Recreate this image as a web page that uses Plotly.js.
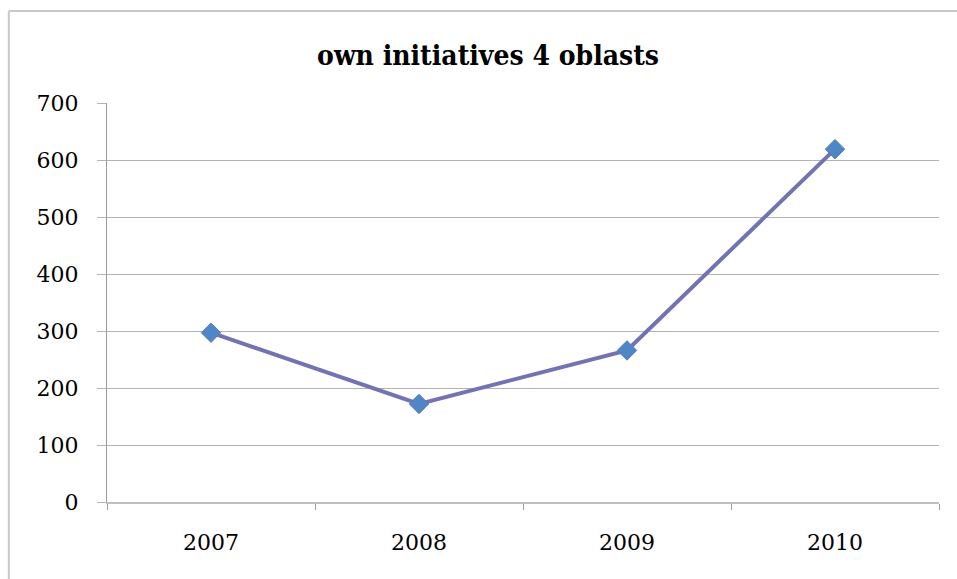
<!DOCTYPE html>
<html>
<head>
<meta charset="utf-8">
<script src="https://cdn.plot.ly/plotly-3.0.1.min.js"></script>
<style>html,body{margin:0;padding:0;background:#fff;}#chart{width:957px;height:579px;}</style>
</head>
<body>
<div id="chart"></div>
<script>
const years = ['2007', '2008', '2009', '2010'];
const initiatives = [297, 172, 266, 619];
const yTicks = [0, 100, 200, 300, 400, 500, 600, 700];

const trace = {
  x: years,
  y: initiatives,
  type: 'scatter',
  mode: 'lines+markers',
  line: {color: '#7373B3', width: 4},
  marker: {symbol: 'diamond', size: 15, color: '#4F86C6', line: {color: '#5A7FC0', width: 1}},
  hoverinfo: 'x+y'
};

const layout = {
  width: 957, height: 579,
  margin: {l: 107, r: 18, t: 103, b: 77},
  paper_bgcolor: '#ffffff', plot_bgcolor: '#ffffff',
  showlegend: false,
  title: {
    text: 'own initiatives 4 oblasts',
    font: {family: 'DejaVu Serif Condensed, DejaVu Serif', size: 28, color: '#000', weight: 'bold'},
    x: 0.51, xref: 'container', xanchor: 'center',
    y: 0.905, yref: 'container', yanchor: 'middle'
  },
  xaxis: {
    type: 'category',
    range: [-0.5, 3.5],
    showgrid: false,
    showline: true, linecolor: '#BFBFBF', linewidth: 2,
    ticks: 'outside', tickson: 'boundaries', ticklen: 6, tickcolor: '#A0A0A0', tickwidth: 1,
    ticklabelstandoff: 20,
    tickfont: {family: 'DejaVu Serif', size: 22, color: '#000'},
    zeroline: false, fixedrange: true
  },
  yaxis: {
    range: [0, 700],
    tickvals: yTicks,
    showgrid: true, gridcolor: '#B3B3B3', gridwidth: 1,
    showline: true, linecolor: '#9A9A9A', linewidth: 1,
    ticks: 'outside', ticklen: 9, tickcolor: '#B3B3B3', tickwidth: 1,
    ticklabelstandoff: 14,
    tickfont: {family: 'DejaVu Serif', size: 22, color: '#000'},
    zeroline: false, fixedrange: true
  },
  shapes: [
    {type: 'line', xref: 'paper', yref: 'paper', x0: -0.118, x1: 1.1, y0: 1.2306, y1: 1.2306,
     line: {color: '#C8C8C8', width: 2}},
    {type: 'line', xref: 'paper', yref: 'paper', x0: -0.118, x1: -0.118, y0: 1.2306, y1: -0.3,
     line: {color: '#C8C8C8', width: 2}}
  ]
};

Plotly.newPlot('chart', [trace], layout, {displayModeBar: false, staticPlot: true});
</script>
</body>
</html>
